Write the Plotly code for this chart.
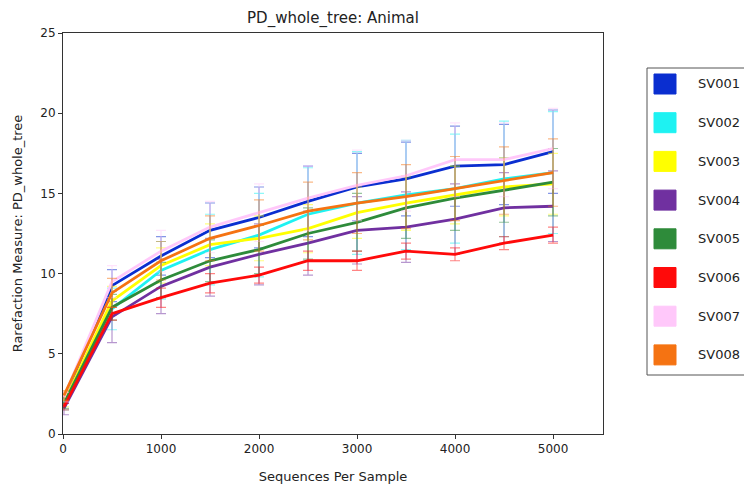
import plotly.graph_objects as go

depths = [10, 500, 1000, 1500, 2000, 2500, 3000, 3500, 4000, 4500, 5000]
samples = ["SV001", "SV002", "SV003", "SV004", "SV005", "SV006", "SV007", "SV008"]
colors = ["#0a2ed0", "#1ef2f2", "#ffff00", "#7030a0", "#2e8b3a", "#ff0a0a", "#ffc8fa", "#f57312"]

sv001 = [2.2, 9.25, 11.1, 12.7, 13.5, 14.5, 15.4, 15.9, 16.7, 16.8, 17.6]
sv002 = [1.8, 7.8, 10.2, 11.5, 12.4, 13.7, 14.4, 14.9, 15.3, 15.9, 16.3]
sv003 = [2.0, 8.3, 10.5, 11.8, 12.2, 12.8, 13.8, 14.4, 14.9, 15.4, 15.6]
sv004 = [1.6, 7.3, 9.2, 10.4, 11.2, 11.9, 12.7, 12.9, 13.4, 14.1, 14.2]
sv005 = [1.9, 7.9, 9.6, 10.8, 11.5, 12.5, 13.2, 14.1, 14.7, 15.2, 15.7]
sv006 = [1.7, 7.5, 8.5, 9.4, 9.9, 10.8, 10.8, 11.4, 11.2, 11.9, 12.4]
sv007 = [2.3, 9.5, 11.4, 12.9, 13.8, 14.7, 15.5, 16.1, 17.1, 17.1, 17.8]
sv008 = [2.4, 8.8, 10.8, 12.2, 13.0, 13.9, 14.4, 14.8, 15.3, 15.8, 16.3]

err001 = [0.3, 1.0, 1.2, 1.7, 1.9, 2.2, 2.1, 2.3, 2.5, 2.5, 2.6]
err002 = [0.3, 1.3, 1.8, 2.2, 2.6, 2.9, 3.2, 3.4, 3.4, 3.6, 3.8]
err003 = [0.3, 0.9, 1.1, 1.3, 1.4, 1.5, 1.6, 1.7, 1.8, 1.8, 1.9]
err004 = [0.4, 1.6, 1.7, 1.8, 1.9, 2.0, 2.1, 2.2, 2.2, 2.2, 2.2]
err005 = [0.3, 0.8, 1.1, 1.3, 1.5, 1.6, 1.8, 1.9, 2.0, 2.0, 2.1]
err006 = [0.2, 0.4, 0.6, 0.6, 0.5, 0.6, 0.6, 0.5, 0.4, 0.4, 0.5]
err007 = [0.3, 1.0, 1.3, 1.6, 1.8, 2.0, 2.2, 2.2, 2.3, 2.3, 2.5]
err008 = [0.3, 0.9, 1.2, 1.4, 1.6, 1.8, 1.9, 2.0, 2.0, 2.1, 2.1]

values = [sv001, sv002, sv003, sv004, sv005, sv006, sv007, sv008]
errors = [err001, err002, err003, err004, err005, err006, err007, err008]


def rgba(hexc, a):
    h = hexc.lstrip("#")
    r, g, b = int(h[0:2], 16), int(h[2:4], 16), int(h[4:6], 16)
    return f"rgba({r},{g},{b},{a})"


fig = go.Figure()
for name, col, vals, err in zip(samples, colors, values, errors):
    fig.add_trace(go.Scatter(
        x=depths, y=vals, name=name, mode="lines",
        line=dict(color=col, width=2.8),
        error_y=dict(type="data", array=err, visible=True,
                     color=rgba(col, 0.5), thickness=1.2, width=5),
        showlegend=False,
    ))

font_family = "DejaVu Sans, Liberation Sans, sans-serif"

W, H = 744, 488
ml, mr, mt, mb = 63, 141, 33, 54
pw, ph = W - ml - mr, H - mt - mb


def px_x(px):
    return (px - ml) / pw


def px_y(py):
    return (H - mb - py) / ph


shapes = [dict(type="rect", xref="paper", yref="paper",
               x0=px_x(647), x1=px_x(760), y0=px_y(375), y1=px_y(68),
               line=dict(color="#555555", width=1), fillcolor="white", layer="below")]
annotations = []
for i, (name, col) in enumerate(zip(samples, colors)):
    cy = 84 + i * 38.7
    shapes.append(dict(type="rect", xref="paper", yref="paper",
                       x0=px_x(654), x1=px_x(676), y0=px_y(cy + 10), y1=px_y(cy - 10),
                       line=dict(color=col, width=1), fillcolor=col))
    annotations.append(dict(xref="paper", yref="paper", x=px_x(696), y=px_y(cy),
                            text=name, showarrow=False, xanchor="left", yanchor="middle",
                            font=dict(family=font_family, size=13, color="#222222")))

fig.update_layout(
    width=W, height=H,
    margin=dict(l=ml, r=mr, t=mt, b=mb),
    paper_bgcolor="white", plot_bgcolor="white",
    title=dict(text="PD_whole_tree: Animal", x=0.5, xref="paper", xanchor="center",
               y=1 - 18 / H, yref="container", yanchor="middle",
               font=dict(family=font_family, size=15, color="#222222")),
    font=dict(family=font_family, size=12, color="#222222"),
    xaxis=dict(range=[0, 5510], tickvals=[0, 1000, 2000, 3000, 4000, 5000],
               automargin=False,
               showgrid=False, zeroline=False, showline=True, linecolor="#333333",
               linewidth=1, mirror=True, ticks="outside", ticklen=4, tickcolor="#333333",
               title=dict(text="Sequences Per Sample", standoff=16,
                          font=dict(family=font_family, size=13))),
    yaxis=dict(range=[0, 25], tickvals=[0, 5, 10, 15, 20, 25],
               automargin=False,
               showgrid=False, zeroline=False, showline=True, linecolor="#333333",
               linewidth=1, mirror=True, ticks="outside", ticklen=4, tickcolor="#333333",
               title=dict(text="Rarefaction Measure: PD_whole_tree", standoff=14,
                          font=dict(family=font_family, size=13))),
    shapes=shapes,
    annotations=annotations,
    showlegend=False,
)

fig.write_html("out.html")
